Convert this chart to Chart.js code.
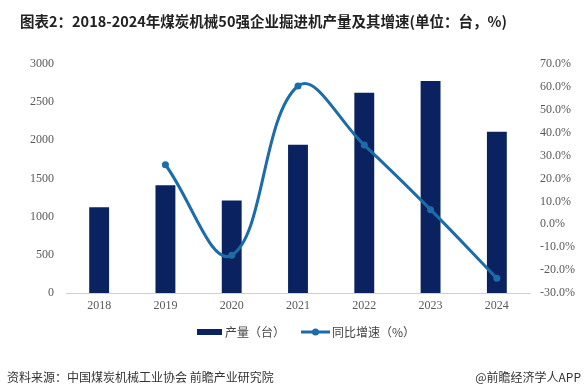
<!DOCTYPE html>
<html>
<head>
<meta charset="utf-8">
<script src="https://cdn.jsdelivr.net/npm/chart.js@4"></script>
<style>
  html, body { margin: 0; padding: 0; background: #fff; }
  #wrap { width: 585px; height: 390px; }
</style>
</head>
<body>
<div id="wrap"><canvas id="chart" width="585" height="390"></canvas></div>
<script>
const years = ['2018', '2019', '2020', '2021', '2022', '2023', '2024'];
const output = [1125, 1410, 1212, 1943, 2622, 2778, 2113];
const growth = [null, 26.0, -13.5, 60.4, 34.6, 6.4, -23.6];
const leftTicks = [0, 500, 1000, 1500, 2000, 2500, 3000];

const titleText = '图表2：2018-2024年煤炭机械50强企业掘进机产量及其增速(单位：台，%)';
const sourceText = '资料来源：中国煤炭机械工业协会 前瞻产业研究院';
const brandText = '@前瞻经济学人APP';
const barLabel = '产量（台）';
const lineLabel = '同比增速（%）';

const navy = '#0b2260';
const blue = '#1b6ca8';
const cjk = '"Noto Sans CJK SC", "Noto Sans", sans-serif';
const serif = '"Liberation Serif", "DejaVu Serif", serif';

const decor = {
  id: 'decor',
  afterDraw(chart) {
    const ctx = chart.ctx;
    ctx.save();
    ctx.fillStyle = '#222';
    ctx.font = 'bold 14.5px ' + cjk;
    ctx.textBaseline = 'middle';
    ctx.textAlign = 'left';
    ctx.fillText(titleText, 20, 21);

    // legend
    ctx.fillStyle = navy;
    ctx.fillRect(197, 329, 25, 6);
    ctx.font = '12px ' + cjk;
    ctx.fillStyle = '#444';
    ctx.fillText(barLabel, 225, 332);
    ctx.strokeStyle = blue;
    ctx.lineWidth = 3;
    ctx.beginPath();
    ctx.moveTo(301, 332);
    ctx.lineTo(330, 332);
    ctx.stroke();
    ctx.fillStyle = blue;
    ctx.beginPath();
    ctx.arc(315.5, 332, 3.5, 0, Math.PI * 2);
    ctx.fill();
    ctx.fillStyle = '#444';
    ctx.fillText(lineLabel, 332, 332);

    // footer
    ctx.fillStyle = '#333';
    ctx.font = '12px ' + cjk;
    ctx.fillText(sourceText, 7, 377);
    ctx.textAlign = 'right';
    ctx.fillText(brandText, 581, 377);
    ctx.restore();
  }
};

new Chart(document.getElementById('chart'), {
  data: {
    labels: years,
    datasets: [
      {
        type: 'line',
        label: lineLabel,
        data: growth,
        yAxisID: 'y1',
        borderColor: blue,
        backgroundColor: blue,
        borderWidth: 3,
        pointRadius: 3.5,
        pointBorderWidth: 0,
        tension: 0.4,
        order: 0
      },
      {
        type: 'bar',
        label: barLabel,
        data: output,
        yAxisID: 'y',
        backgroundColor: navy,
        categoryPercentage: 1,
        barPercentage: 0.3,
        order: 1
      }
    ]
  },
  options: {
    responsive: false,
    animation: false,
    layout: { padding: { top: 64, bottom: 75, left: 0, right: 0 } },
    plugins: {
      legend: { display: false },
      tooltip: { enabled: false }
    },
    scales: {
      x: {
        grid: { display: false, drawTicks: false },
        border: { color: '#d0d0d0', width: 1 },
        ticks: { color: '#595959', font: { family: serif, size: 12 }, padding: 6 },
        afterFit(axis) { axis.height = 22; }
      },
      y: {
        position: 'left',
        min: 0,
        max: 3000,
        grid: { display: false, drawTicks: false },
        border: { display: false },
        afterBuildTicks(axis) { axis.ticks = leftTicks.map(v => ({ value: v })); },
        ticks: {
          color: '#595959',
          font: { family: serif, size: 12 },
          padding: 12,
          callback: v => String(v)
        },
        afterFit(axis) { axis.width = 66; }
      },
      y1: {
        position: 'right',
        min: -30,
        max: 70,
        grid: { display: false, drawTicks: false },
        border: { display: false },
        ticks: {
          stepSize: 10,
          color: '#595959',
          font: { family: serif, size: 12 },
          padding: 10,
          callback: v => v.toFixed(1) + '%'
        },
        afterFit(axis) { axis.width = 55; }
      }
    }
  },
  plugins: [decor]
});
</script>
</body>
</html>
